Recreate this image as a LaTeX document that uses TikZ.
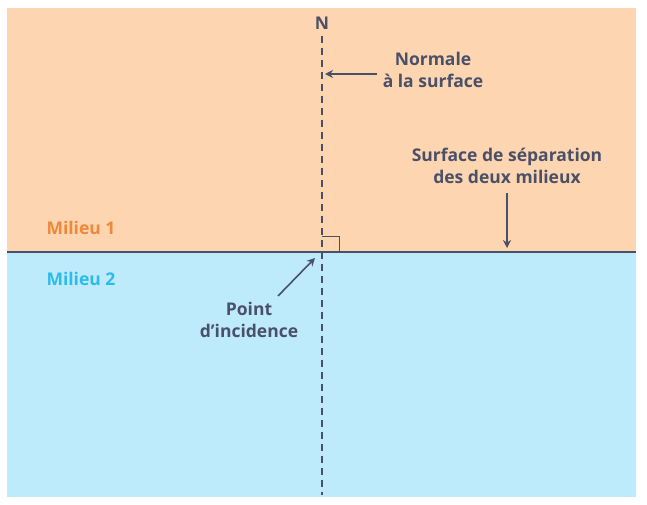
\documentclass[tikz,border=0pt]{standalone}
\usepackage{fontspec}
\setmainfont{Open Sans}
\IfFontExistsTF{Open Sans SemiBold}
  {\newfontface\lblfont{Open Sans SemiBold}\def\lblsize{\fontsize{17.8}{22}}}
  {\newfontface\lblfont{Open Sans Bold}\def\lblsize{\fontsize{17.5}{22}}}
\usetikzlibrary{arrows.meta}
\definecolor{peach}{HTML}{FDD5B1}
\definecolor{sky}{HTML}{BDEBFB}
\definecolor{ink}{HTML}{4A5068}
\definecolor{orangetxt}{HTML}{F0883A}
\definecolor{cyantxt}{HTML}{2DBBEB}
\tikzset{
  lbl/.style={text=ink, font=\lblsize\lblfont, align=center, inner sep=0pt},
  pointer/.style={draw=ink, line width=1.6pt, -{Stealth[length=8pt,width=8pt]}},
}
\begin{document}
\begin{tikzpicture}[x=1pt,y=-1pt]
\useasboundingbox (0,0) rectangle (647,505);
\fill[white] (0,0) rectangle (647,505);
\fill[peach] (7,8) rectangle (636,252);
\fill[sky] (7,252) rectangle (636,497);
\draw[ink, line width=1.2pt] (7,252) -- (636,252);
\draw[ink, line width=1.2pt, dashed, dash pattern=on 7pt off 5pt] (322,36) -- (322,495);
\draw[ink, line width=1pt] (322,236) -- (339,236) -- (339,252);
\node[lbl] (N) at (322,23) {N};
\node[lbl] (norm) at (433,70) {Normale\\à la surface};
\coordinate (normtip) at (325,74);
\draw[pointer] (377,74) -- (normtip);
\node[lbl] (surf) at (507,166) {Surface de séparation\\des deux milieux};
\coordinate (surftip) at (507,248);
\draw[pointer] (507,193) -- (surftip);
\node[lbl, text=orangetxt] (m1) at (81,228) {Milieu 1};
\node[lbl, text=cyantxt] (m2) at (81,279) {Milieu 2};
\node[lbl] (pt) at (249,320) {Point\\d’incidence};
\coordinate (pttip) at (315,258);
\draw[pointer] (278,296) -- (pttip);
\end{tikzpicture}
\end{document}
